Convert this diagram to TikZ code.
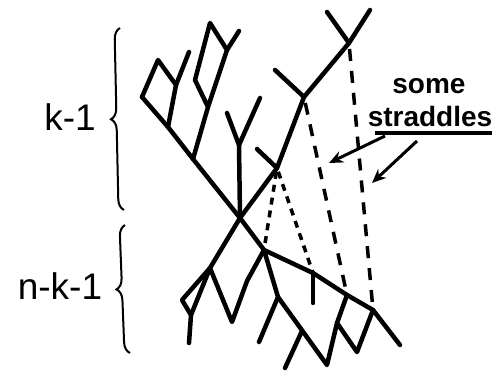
\documentclass[tikz,border=0pt]{standalone}
\usepackage{fontspec}
\setmainfont{Liberation Sans}
\usetikzlibrary{arrows.meta,decorations.pathreplacing}
\newcommand{\lbl}[1]{\fontsize{37}{40}\selectfont #1}

\begin{document}
\begin{tikzpicture}[x=1pt,y=-1pt,
    tree/.style={line width=4.5pt,line cap=round,line join=round},
    strad/.style={line width=3.5pt,dash pattern=on 12pt off 10pt,shorten <=6pt},
    short/.style={line width=3.5pt,dash pattern=on 7pt off 6pt,shorten <=4pt},
    curly/.style={line width=2pt,decorate,decoration={brace,amplitude=11pt}},
    pointer/.style={line width=3pt,-{Stealth[length=14pt,width=12pt]}}]
  \useasboundingbox (0,0) rectangle (504,371);

  % where the two halves cross
  \coordinate (X) at (240,218);
  % upper half
  \coordinate (a1) at (142,97);  \coordinate (a2) at (158,60);
  \coordinate (a3) at (176,85);  \coordinate (a4) at (189,52);
  \coordinate (a5) at (168,127);
  \coordinate (b0) at (193,159); \coordinate (b1) at (208,107);
  \coordinate (b2) at (195,80);  \coordinate (b3) at (210,23);
  \coordinate (b4) at (227,50);  \coordinate (b5) at (239,31);
  \coordinate (c0) at (239,145); \coordinate (c1) at (227,113);
  \coordinate (c2) at (260,98);
  \coordinate (d1) at (277,168); \coordinate (d2) at (257,149);
  \coordinate (d3) at (304,97);  \coordinate (d4) at (275,70);
  \coordinate (d5) at (349,43);  \coordinate (d6) at (327,12);
  \coordinate (d7) at (370,10);
  % lower half
  \coordinate (e1) at (264,250); \coordinate (e2) at (313,273);
  \coordinate (e3) at (347,295); \coordinate (e4) at (373,310);
  \coordinate (e5) at (400,345); \coordinate (e6) at (313,303);
  \coordinate (f1) at (210,268); \coordinate (f2) at (182,300);
  \coordinate (f3) at (191,315); \coordinate (f4) at (189,343);
  \coordinate (f5) at (232,322); \coordinate (f6) at (247,281);
  \coordinate (g1) at (278,297); \coordinate (g2) at (259,342);
  \coordinate (g3) at (302,331); \coordinate (g4) at (285,368);
  \coordinate (g5) at (327,365);
  \coordinate (h1) at (337,323); \coordinate (h2) at (357,352);

  \draw[tree] (a1) -- (a5) -- (b0) -- (X);
  \draw[tree] (a1) -- (a2) -- (a3) -- (a5);
  \draw[tree] (a3) -- (a4);
  \draw[tree] (b0) -- (b1) -- (b2) -- (b3) -- (b4) -- (b1);
  \draw[tree] (b4) -- (b5);
  \draw[tree] (c1) -- (c0) -- (c2);
  \draw[tree] (c0) -- (X);
  \draw[tree] (X) -- (d1) -- (d3) -- (d5);
  \draw[tree] (d1) -- (d2);
  \draw[tree] (d3) -- (d4);
  \draw[tree] (d6) -- (d5) -- (d7);

  \draw[tree] (X) -- (e1) -- (e2) -- (e3) -- (e4) -- (e5);
  \draw[tree] (e2) -- (e6);
  \draw[tree] (X) -- (f1) -- (f2) -- (f3) -- (f4);
  \draw[tree] (f1) -- (f3);
  \draw[tree] (f1) -- (f5) -- (f6) -- (e1);
  \draw[tree] (e1) -- (g1) -- (g2);
  \draw[tree] (g1) -- (g5) -- (h1) -- (e3);
  \draw[tree] (g3) -- (g4);
  \draw[tree] (h1) -- (h2) -- (e4);

  % straddling edges
  \draw[strad] (d5) -- (e4);
  \draw[strad] (d3) -- (e3);
  \draw[short] (d1) -- (e1);
  \draw[short] (d1) -- (e2);

  % braces and their labels
  \coordinate (kb) at (124,210); \coordinate (kt) at (120,28);
  \coordinate (nb) at (130,353); \coordinate (nt) at (125,225);
  \draw[curly] (kb) -- (kt);
  \draw[curly] (nb) -- (nt);
  \node (k) at (70,117) {\lbl{k-1}};
  \node (nk) at (60,286) {\lbl{n-k-1}};

  % note on the right
  \node[font=\fontsize{28}{30}\selectfont\bfseries] (some) at (429,86) {some};
  \node[font=\fontsize{28}{30}\selectfont\bfseries] (str) at (430,116) {straddles};
  \coordinate (ul) at (375,133); \coordinate (ur) at (492,133);
  \draw[line width=4pt] (ul) -- (ur);
  \coordinate (p1) at (385,136); \coordinate (q1) at (329,163);
  \coordinate (p2) at (417,141); \coordinate (q2) at (372,183);
  \draw[pointer] (p1) -- (q1);
  \draw[pointer] (p2) -- (q2);
\end{tikzpicture}
\end{document}
